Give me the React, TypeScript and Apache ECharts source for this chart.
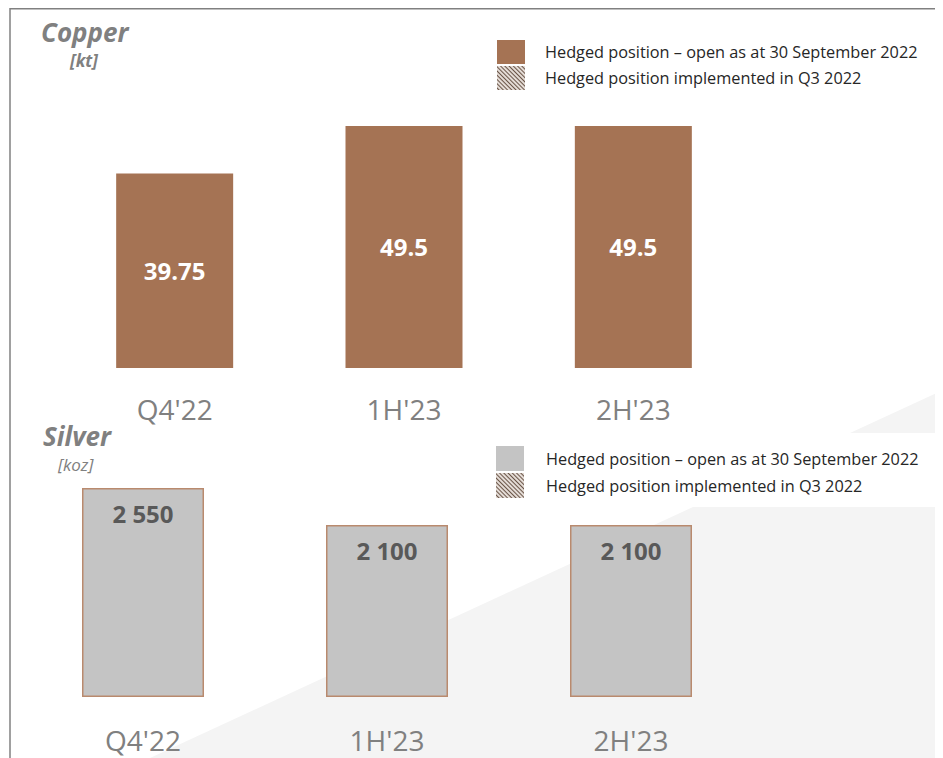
import React, { useEffect, useRef } from "react";
import * as echarts from "echarts";

const categories = ["Q4'22", "1H'23", "2H'23"];
const copperOpen = [39.75, 49.5, 49.5];
const copperQ3 = [0, 0, 0];
const silverOpen = [2550, 2100, 2100];
const silverQ3 = [0, 0, 0];
const openName = "Hedged position – open as at 30 September 2022";
const q3Name = "Hedged position implemented in Q3 2022";

const FONT = "'Open Sans', 'Noto Sans', sans-serif";
const COPPER = "#a57354";
const SILVER = "#c4c4c4";
const SILVER_BORDER = "#b98a6e";
const HATCH_BG = "#e4dcd6";
const hatchDecal = {
  symbol: "rect",
  symbolSize: 1,
  color: "#6a5548",
  dashArrayX: [1, 0],
  dashArrayY: [1, 1.2],
  rotation: Math.PI / 4,
};

export default function App() {
  const ref = useRef<HTMLDivElement>(null);
  useEffect(() => {
    if (!ref.current) return;
    const chart = echarts.init(ref.current, null, { renderer: "svg" });
    const fmtThousands = (v: number) =>
      String(v).replace(/\B(?=(\d{3})+(?!\d))/g, " ");
    chart.setOption({
      animation: false,
      textStyle: { fontFamily: FONT },
      graphic: [
        {
          type: "polygon",
          z: -10,
          silent: true,
          shape: { points: [[842, 425], [935, 382], [935, 425]] },
          style: { fill: "#f4f4f4" },
        },
        {
          type: "polygon",
          z: -10,
          silent: true,
          shape: { points: [[142, 750], [685, 499], [935, 499], [935, 750]] },
          style: { fill: "#f4f4f4" },
        },
        {
          type: "line",
          shape: { x1: 2, y1: 0.75, x2: 935, y2: 0.75 },
          style: { stroke: "#808080", lineWidth: 1.5 },
        },
        {
          type: "line",
          shape: { x1: 2, y1: 0, x2: 2, y2: 750 },
          style: { stroke: "#808080", lineWidth: 1.5 },
        },
        {
          type: "text",
          x: 33,
          y: 23.5,
          style: {
            text: "Copper",
            font: `italic bold 26px ${FONT}`,
            lineHeight: 26,
            fill: "#808080",
            verticalAlign: "middle",
          },
        },
        {
          type: "text",
          x: 62,
          y: 52,
          style: {
            text: "[kt]",
            font: `italic bold 17px ${FONT}`,
            lineHeight: 17,
            fill: "#808080",
            verticalAlign: "middle",
          },
        },
        {
          type: "text",
          x: 35,
          y: 427.5,
          style: {
            text: "Silver",
            font: `italic bold 26px ${FONT}`,
            lineHeight: 26,
            fill: "#808080",
            verticalAlign: "middle",
          },
        },
        {
          type: "text",
          x: 50,
          y: 456,
          style: {
            text: "[koz]",
            font: `italic 17px ${FONT}`,
            lineHeight: 17,
            fill: "#808080",
            verticalAlign: "middle",
          },
        },
      ],
      legend: [
        {
          left: 489,
          top: 32,
          orient: "vertical",
          padding: 0,
          itemWidth: 28,
          itemHeight: 24,
          itemGap: 2,
          icon: "rect",
          selectedMode: false,
          textStyle: {
            fontFamily: FONT,
            fontSize: 16.3,
            color: "#262626",
            padding: [0, 0, 0, 15],
          },
          data: [
            { name: openName, itemStyle: { color: COPPER, borderWidth: 0 } },
            { name: q3Name, itemStyle: { color: HATCH_BG, borderWidth: 0, decal: hatchDecal } },
          ],
        },
        {
          left: 488,
          top: 438,
          orient: "vertical",
          padding: 0,
          itemWidth: 28,
          itemHeight: 25,
          itemGap: 2,
          icon: "rect",
          selectedMode: false,
          textStyle: {
            fontFamily: FONT,
            fontSize: 16.3,
            color: "#262626",
            padding: [0, 0, 0, 17],
          },
          data: [
            { name: openName, itemStyle: { color: SILVER, borderWidth: 0 } },
            { name: q3Name, itemStyle: { color: HATCH_BG, borderWidth: 0, decal: hatchDecal } },
          ],
        },
      ],
      grid: [
        { left: 52, top: 115.5, width: 688, height: 244.5, containLabel: false },
        { left: 13, top: 475.9, width: 732, height: 213.1, containLabel: false },
      ],
      xAxis: [
        {
          type: "category",
          gridIndex: 0,
          data: categories,
          axisLine: { show: false },
          axisTick: { show: false },
          axisLabel: {
            margin: 27,
            fontSize: 28,
            color: "#808080",
            fontFamily: FONT,
            lineHeight: 28,
          },
        },
        {
          type: "category",
          gridIndex: 1,
          data: categories,
          axisLine: { show: false },
          axisTick: { show: false },
          axisLabel: {
            margin: 29,
            fontSize: 28,
            color: "#808080",
            fontFamily: FONT,
            lineHeight: 28,
          },
        },
      ],
      yAxis: [
        { type: "value", gridIndex: 0, min: 0, max: 50, show: false, splitLine: { show: false } },
        { type: "value", gridIndex: 1, min: 0, max: 2600, show: false, splitLine: { show: false } },
      ],
      series: [
        {
          name: openName,
          type: "bar",
          xAxisIndex: 0,
          yAxisIndex: 0,
          stack: "cu",
          barWidth: 117,
          data: copperOpen,
          itemStyle: { color: COPPER },
          label: {
            show: true,
            position: "inside",
            color: "#ffffff",
            fontWeight: "bold",
            fontSize: 24,
            fontFamily: FONT,
            formatter: (p: any) => String(p.value),
          },
        },
        {
          name: q3Name,
          type: "bar",
          xAxisIndex: 0,
          yAxisIndex: 0,
          stack: "cu",
          barWidth: 117,
          data: copperQ3,
          itemStyle: { color: HATCH_BG, decal: hatchDecal },
          label: { show: false },
        },
        {
          name: openName,
          type: "bar",
          xAxisIndex: 1,
          yAxisIndex: 1,
          stack: "ag",
          barWidth: 122,
          data: silverOpen,
          itemStyle: { color: SILVER, borderColor: SILVER_BORDER, borderWidth: 1.5 },
          label: {
            show: true,
            position: "insideTop",
            distance: 14,
            color: "#595959",
            fontWeight: "bold",
            fontSize: 24,
            fontFamily: FONT,
            formatter: (p: any) => fmtThousands(p.value),
          },
        },
        {
          name: q3Name,
          type: "bar",
          xAxisIndex: 1,
          yAxisIndex: 1,
          stack: "ag",
          barWidth: 122,
          data: silverQ3,
          itemStyle: { color: HATCH_BG, decal: hatchDecal },
          label: { show: false },
        },
      ],
    });
    return () => chart.dispose();
  }, []);
  return <div ref={ref} style={{ width: 935, height: 750 }} />;
}
